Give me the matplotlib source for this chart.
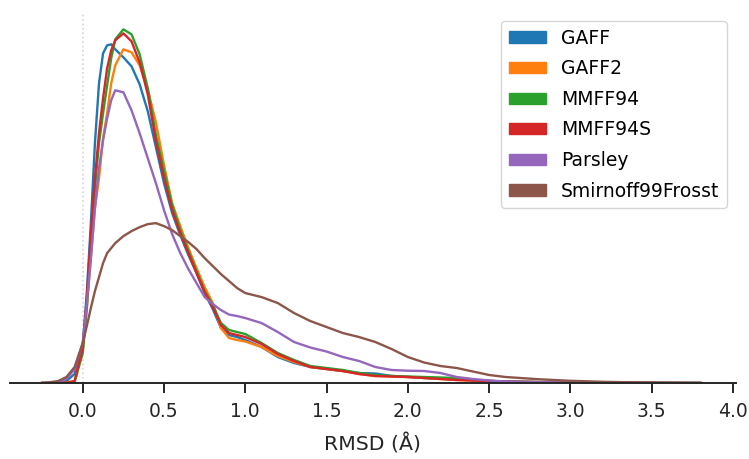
import matplotlib
matplotlib.use("Agg")
import matplotlib.pyplot as plt
from matplotlib.patches import Patch

# Кривые плотности RMSD (единицы условные)
rmsd = [-0.25, -0.20, -0.15, -0.10, -0.05, 0.00, 0.025, 0.05, 0.075, 0.10, 0.125, 0.15, 0.175,
        0.20, 0.25, 0.30, 0.35, 0.40, 0.45, 0.50, 0.55, 0.60, 0.65, 0.70, 0.75, 0.80, 0.85,
        0.90, 0.95, 1.00,
        1.10, 1.20, 1.30, 1.40, 1.50, 1.60, 1.70, 1.80, 1.90, 2.00, 2.10, 2.20, 2.30, 2.40, 2.50, 2.60,
        2.80, 3.00, 3.20, 3.40, 3.60, 3.80]

gaff = [0, 0, 0.003, 0.02, 0.09, 0.38, 0.90, 1.60, 2.40, 3.00, 3.30, 3.38, 3.39,
        3.34, 3.26, 3.17, 2.99, 2.72, 2.36, 2.00, 1.70, 1.48, 1.28, 1.10, 0.90, 0.74, 0.55,
        0.48, 0.46, 0.43,
        0.36, 0.26, 0.20, 0.16, 0.14, 0.12, 0.10, 0.095, 0.07, 0.06, 0.05, 0.045, 0.035, 0.025, 0.02, 0.015,
        0.01, 0.006, 0.003, 0.002, 0.001, 0]
gaff2 = [0, 0, 0, 0.003, 0.02, 0.32, 0.75, 1.25, 1.75, 2.05, 2.45, 2.70, 3.00,
         3.18, 3.34, 3.31, 3.18, 2.94, 2.61, 2.18, 1.80, 1.57, 1.35, 1.15, 0.96, 0.80, 0.55,
         0.45, 0.43, 0.415,
         0.36, 0.27, 0.21, 0.16, 0.14, 0.12, 0.09, 0.07, 0.065, 0.06, 0.05, 0.04, 0.03, 0.025, 0.02, 0.015,
         0.01, 0.005, 0.003, 0.001, 0, 0]
mmff94 = [0, 0, 0, 0, 0.01, 0.30, 0.75, 1.40, 1.95, 2.40, 2.70, 2.98, 3.25,
          3.44, 3.54, 3.49, 3.29, 2.95, 2.48, 2.12, 1.78, 1.53, 1.32, 1.12, 0.92, 0.78, 0.60,
          0.53, 0.51, 0.49,
          0.40, 0.30, 0.23, 0.17, 0.15, 0.13, 0.10, 0.08, 0.07, 0.065, 0.06, 0.055, 0.05, 0.03, 0.02, 0.015,
          0.008, 0.004, 0.002, 0.001, 0, 0]
mmff94s = [0, 0, 0, 0.003, 0.02, 0.35, 0.85, 1.50, 2.05, 2.50, 2.85, 3.15, 3.33,
           3.43, 3.50, 3.42, 3.21, 2.89, 2.42, 2.05, 1.73, 1.50, 1.30, 1.10, 0.91, 0.76, 0.58,
           0.50, 0.48, 0.46,
           0.39, 0.29, 0.22, 0.16, 0.14, 0.12, 0.09, 0.07, 0.065, 0.06, 0.05, 0.04, 0.03, 0.025, 0.02, 0.015,
           0.008, 0.004, 0.002, 0.001, 0, 0]
parsley = [0, 0, 0.01, 0.04, 0.14, 0.40, 0.80, 1.25, 1.75, 2.15, 2.43, 2.65, 2.83,
           2.93, 2.91, 2.73, 2.50, 2.25, 2.00, 1.73, 1.49, 1.30, 1.14, 1.00, 0.86, 0.79, 0.73,
           0.685, 0.67, 0.65,
           0.60, 0.51, 0.41, 0.355, 0.315, 0.26, 0.22, 0.16, 0.13, 0.123, 0.12, 0.10, 0.06, 0.04, 0.025, 0.015,
           0.008, 0.004, 0.002, 0.001, 0.0005, 0]
smirnoff = [0, 0.008, 0.02, 0.06, 0.16, 0.40, 0.57, 0.75, 0.92, 1.06, 1.20, 1.30, 1.35,
            1.40, 1.47, 1.52, 1.56, 1.59, 1.60, 1.57, 1.53, 1.47, 1.41, 1.34, 1.25, 1.17, 1.09,
            1.02, 0.95, 0.90,
            0.86, 0.80, 0.70, 0.62, 0.56, 0.50, 0.46, 0.41, 0.34, 0.26, 0.205, 0.17, 0.15, 0.115, 0.08, 0.06,
            0.038, 0.022, 0.012, 0.006, 0.003, 0]

names = ["GAFF", "GAFF2", "MMFF94", "MMFF94S", "Parsley", "Smirnoff99Frosst"]
series = [gaff, gaff2, mmff94, mmff94s, parsley, smirnoff]
colors = ["#1f77b4", "#ff7f0e", "#2ca02c", "#d62728", "#9467bd", "#8c564b"]
xticks = [0.0, 0.5, 1.0, 1.5, 2.0, 2.5, 3.0, 3.5, 4.0]

dark = "#262626"
fig = plt.figure(figsize=(7.49, 4.59), dpi=100)
ax = fig.add_axes([0.0128, 0.1656, 0.9702, 0.809])

for name, ys, c in zip(names, series, colors):
    ax.plot(rmsd, ys, color=c, lw=1.7, label=name)

ax.axvline(0, color="lightgray", ls=":", lw=1.2, zorder=0)

ymax = max(max(s) for s in series)
ax.set_ylim(0, ymax * 1.05)
ax.set_xlim(-0.45, 4.02)
ax.set_xticks(xticks)
ax.set_xticklabels([f"{t:.1f}" for t in xticks])
ax.set_yticks([])
ax.set_xlabel("RMSD (Å)", fontsize=14.7, color=dark, labelpad=9)
ax.tick_params(axis="x", labelsize=13.5, colors=dark, length=7, width=1.4, pad=7)

for side in ["top", "right", "left"]:
    ax.spines[side].set_visible(False)
ax.spines["bottom"].set_color(dark)
ax.spines["bottom"].set_linewidth(1.4)

handles = [Patch(facecolor=c, edgecolor=c, label=n) for n, c in zip(names, colors)]
ax.legend(handles=handles, loc="upper right", fontsize=13.5, labelspacing=0.62,
          handlelength=2.0, handleheight=0.55)

fig.savefig("out.png", dpi=100)
